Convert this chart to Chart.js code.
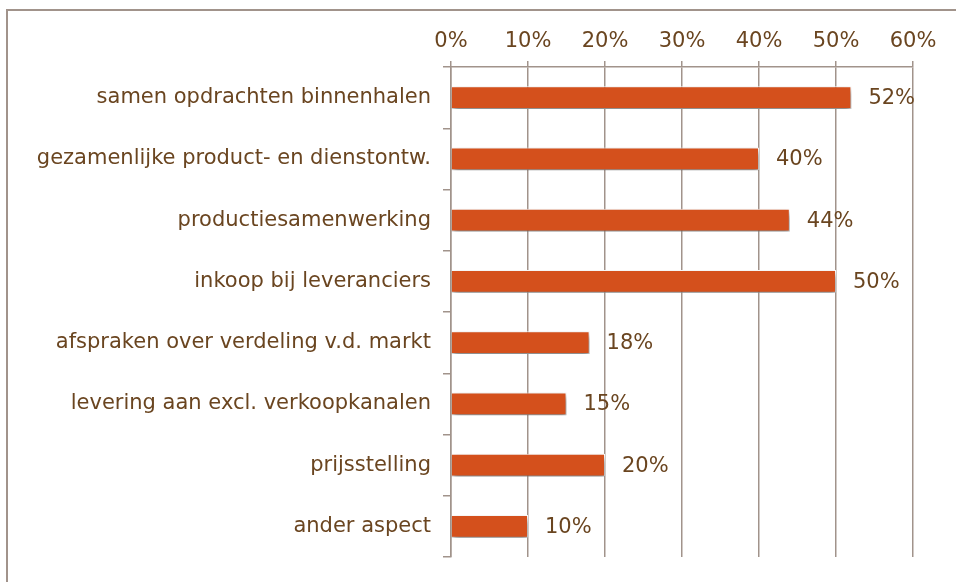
<!DOCTYPE html>
<html>
<head>
<meta charset="utf-8">
<script src="https://cdn.jsdelivr.net/npm/chart.js@4"></script>
<style>
  html, body { margin: 0; padding: 0; background: #fff; }
  #wrap { width: 956px; height: 582px; }
</style>
</head>
<body>
<div id="wrap"><canvas id="bar-canvas" width="956" height="582"></canvas></div>
<script>
const categories = [
    'samen opdrachten binnenhalen',
    'gezamenlijke product- en dienstontw.',
    'productiesamenwerking',
    'inkoop bij leveranciers',
    'afspraken over verdeling v.d. markt',
    'levering aan excl. verkoopkanalen',
    'prijsstelling',
    'ander aspect'
];
const percentages = [52, 40, 44, 50, 18, 15, 20, 10];
const axis_min = 0;
const axis_max = 60;
const axis_step = 10;

const textColor = '#6a4520';
const gridColor = '#a1938b';
const barColor = '#d4501c';
const fontFamily = 'DejaVu Sans, Verdana, sans-serif';
const fontSize = 21;

// grey-brown frame around the chart
const framePlugin = {
    id: 'frame',
    beforeDraw(chart) {
        const ctx = chart.ctx;
        ctx.save();
        ctx.strokeStyle = gridColor;
        ctx.lineWidth = 2;
        ctx.strokeRect(7, 10, 1200, 1200);
        ctx.restore();
    }
};

// soft drop shadow under the bars
const shadowPlugin = {
    id: 'barShadow',
    beforeDatasetsDraw(chart) {
        const ctx = chart.ctx;
        ctx.save();
        ctx.shadowColor = 'rgba(0,0,0,0.5)';
        ctx.shadowBlur = 6;
        ctx.shadowOffsetX = 1;
        ctx.shadowOffsetY = 4;
    },
    afterDatasetsDraw(chart) {
        chart.ctx.restore();
    }
};

// value labels right of each bar
const valueLabels = {
    id: 'valueLabels',
    afterDatasetsDraw(chart) {
        const ctx = chart.ctx;
        const meta = chart.getDatasetMeta(0);
        ctx.save();
        ctx.fillStyle = textColor;
        ctx.font = fontSize + 'px ' + fontFamily;
        ctx.textAlign = 'left';
        ctx.textBaseline = 'middle';
        meta.data.forEach((bar, i) => {
            ctx.fillText(percentages[i] + '%', bar.x + 17, bar.y + 1);
        });
        ctx.restore();
    }
};

const bar_config = {
    type: 'bar',
    data: {
        labels: categories,
        datasets: [{
            data: percentages,
            backgroundColor: barColor,
            borderColor: '#ffffff',
            borderWidth: 1,
            categoryPercentage: 1,
            barPercentage: 0.375
        }]
    },
    options: {
        indexAxis: 'y',
        responsive: false,
        animation: false,
        events: [],
        layout: {
            padding: { left: 0, right: 43, top: 0, bottom: 25 }
        },
        plugins: {
            legend: { display: false },
            title: { display: false },
            tooltip: { enabled: false }
        },
        scales: {
            x: {
                position: 'top',
                min: axis_min,
                max: axis_max,
                afterFit(scale) { scale.height = 67; },
                ticks: {
                    stepSize: axis_step,
                    color: textColor,
                    font: { family: fontFamily, size: fontSize },
                    padding: 7,
                    callback: v => v + '%'
                },
                grid: {
                    color: gridColor,
                    lineWidth: 1.5,
                    tickLength: 6
                },
                border: { color: gridColor, width: 1.5 }
            },
            y: {
                afterFit(scale) { scale.width = 451; },
                ticks: {
                    color: textColor,
                    font: { family: fontFamily, size: fontSize },
                    padding: 12
                },
                grid: {
                    color: gridColor,
                    lineWidth: 1.5,
                    drawOnChartArea: false,
                    tickLength: 8
                },
                border: { color: gridColor, width: 1.5 }
            }
        }
    },
    plugins: [framePlugin, shadowPlugin, valueLabels]
};

const bar_ctx = document.getElementById('bar-canvas');
let bar_chart = new Chart(bar_ctx, bar_config);
</script>
</body>
</html>
